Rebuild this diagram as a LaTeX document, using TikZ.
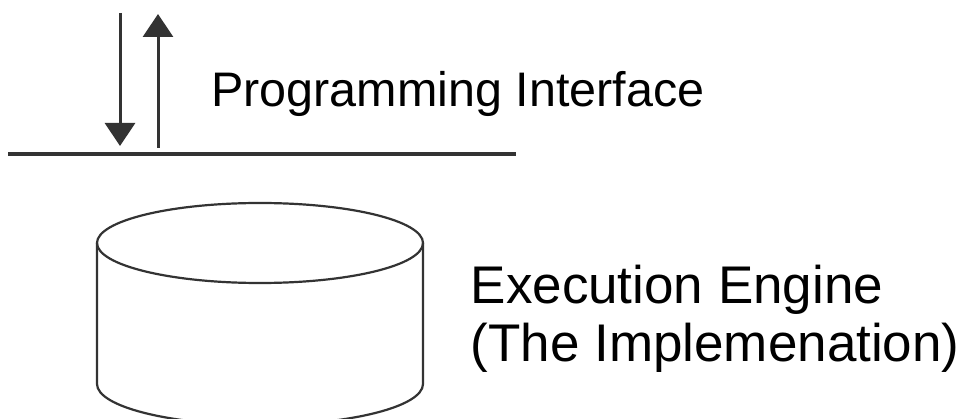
\documentclass[tikz,border=0pt]{standalone}
\usepackage{fontspec}
\setmainfont{Liberation Sans}
\usetikzlibrary{arrows.meta}
\definecolor{ink}{HTML}{333333}
\tikzset{
  conn/.style={draw=ink, line width=3pt, -{Triangle[width=30pt,length=23pt]}},
  wall/.style={draw=ink, line width=2.2pt},
  lbl/.style={inner sep=0pt, anchor=base west, text=black}
}
\begin{document}
\begin{tikzpicture}[x=1pt,y=-1pt]
\useasboundingbox (0,0) rectangle (968,419);
% arrows
\coordinate (dtop) at (120,13);
\coordinate (dbot) at (120,146);
\coordinate (ubot) at (158,148);
\coordinate (utop) at (158,14);
\draw[conn] (dtop) -- (dbot);
\draw[conn] (ubot) -- (utop);
% interface line
\coordinate (lL) at (8,154);
\coordinate (lR) at (516,154);
\draw[draw=ink, line width=4pt] (lL) -- (lR);
\node[lbl, font=\fontsize{48.5}{58}\selectfont] (api) at (211,107) {Programming Interface};
% cylinder
\draw[wall] (260,243) ellipse [x radius=163, y radius=40];
\draw[wall] (97,243) -- (97,384) arc[start angle=180, end angle=0, x radius=163, y radius=41] -- (423,243);
\node[lbl, font=\fontsize{53}{58}\selectfont] (eng1) at (470.5,303) {Execution Engine};
\node[lbl, font=\fontsize{53}{58}\selectfont] (eng2) at (470.5,361) {(The Implemenation)};
\end{tikzpicture}
\end{document}
